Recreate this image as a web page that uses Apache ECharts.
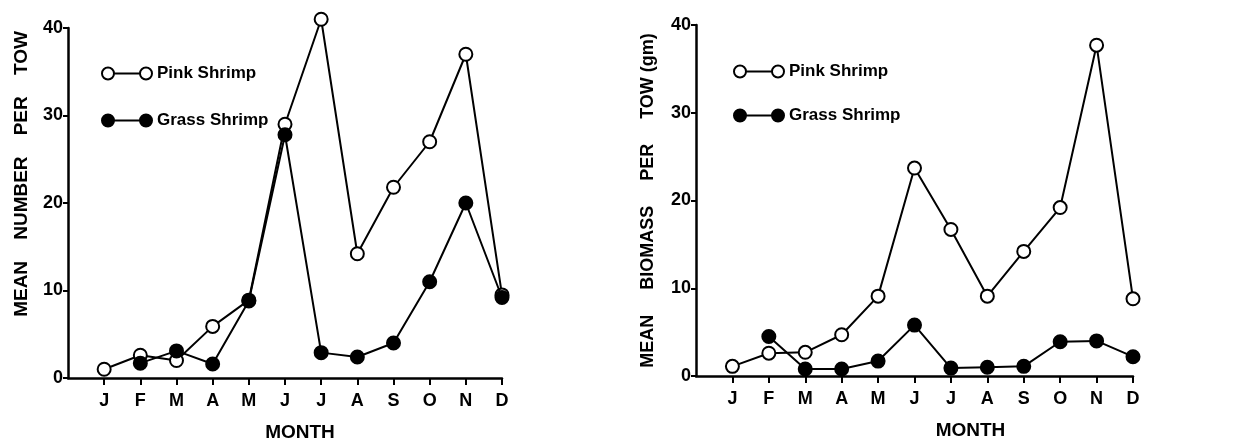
<!DOCTYPE html>
<html>
<head>
<meta charset="utf-8">
<script src="https://cdn.jsdelivr.net/npm/echarts@6/dist/echarts.min.js"></script>
<style>
  html, body { margin: 0; padding: 0; background: #fff; }
  #chart { width: 1239px; height: 442px; }
</style>
</head>
<body>
<div id="chart"></div>
<script>
// Month letters on the x axis (month number 1..12)
const months = ['J', 'F', 'M', 'A', 'M', 'J', 'J', 'A', 'S', 'O', 'N', 'D'];
const yTicks = [0, 10, 20, 30, 40];

// Mean number per tow
const numberPink  = [1.0, 2.6, 2.0, 5.9, 8.9, 29.0, 41.0, 14.2, 21.8, 27.0, 37.0, 9.5];
const numberGrass = [null, 1.7, 3.1, 1.6, 8.8, 27.8, 2.9, 2.4, 4.0, 11.0, 20.0, 9.2];

// Mean biomass per tow (gm)
const biomassPink  = [1.1, 2.6, 2.7, 4.7, 9.1, 23.7, 16.7, 9.1, 14.2, 19.2, 37.7, 8.8];
const biomassGrass = [null, 4.5, 0.8, 0.8, 1.7, 5.8, 0.9, 1.0, 1.1, 3.9, 4.0, 2.2];

const FONT = '"Liberation Sans", Arial, Helvetica, sans-serif';
const monthNums = months.map((m, i) => i + 1);

function pairs(values) {
  return values.map((v, i) => [i + 1, v]).filter(p => p[1] !== null);
}

// two circles joined by a short rule, used as legend keys
const KEY_ICON = 'path://M0,6a6,6 0 1,0 12,0a6,6 0 1,0 -12,0Z M12,6L38,6 M38,6a6,6 0 1,0 12,0a6,6 0 1,0 -12,0Z';

const openStyle = { color: '#fff', borderColor: '#000', borderWidth: 2 };
const filledStyle = { color: '#000', borderColor: '#000', borderWidth: 2 };

function xAxis(gridIndex, nameShift) {
  return {
    type: 'value', gridIndex: gridIndex, min: 0, max: 12,
    name: 'MONTH', nameLocation: 'middle', nameGap: 45,
    nameTextStyle: { fontFamily: FONT, fontWeight: 'bold', fontSize: 19, color: '#000',
                     padding: [0, 0, 0, nameShift] },
    axisLine: { lineStyle: { color: '#000', width: 2.5 } },
    axisTick: { inside: false, length: 7, customValues: monthNums, lineStyle: { color: '#000', width: 2 } },
    axisLabel: { customValues: monthNums, margin: 14, fontFamily: FONT, fontWeight: 'bold', fontSize: 18, color: '#000',
                 formatter: v => months[v - 1] || '' },
    splitLine: { show: false }
  };
}

function yAxis(gridIndex, name, gap, shift, size) {
  return {
    type: 'value', gridIndex: gridIndex, min: 0, max: 40, interval: 10,
    name: name, nameLocation: 'middle', nameGap: gap, nameRotate: 90,
    nameTextStyle: { fontFamily: FONT, fontWeight: 'bold', fontSize: size, color: '#000',
                     padding: [0, 0, 0, shift] },
    axisLine: { show: true, lineStyle: { color: '#000', width: 2.5 } },
    axisTick: { show: true, inside: false, length: 5, lineStyle: { color: '#000', width: 2 } },
    axisLabel: { margin: 5, fontFamily: FONT, fontWeight: 'bold', fontSize: 18, color: '#000',
                 customValues: yTicks },
    splitLine: { show: false }
  };
}

function series(name, values, idx, filled) {
  return {
    name: name, type: 'line', xAxisIndex: idx, yAxisIndex: idx,
    data: pairs(values),
    symbol: 'circle', symbolSize: 13,
    itemStyle: filled ? filledStyle : openStyle,
    lineStyle: { color: '#000', width: 2 },
    clip: false,
    z: filled ? 3 : 2,
    animation: false
  };
}

function legend(left, top, gap) {
  return {
    left: left, top: top, orient: 'vertical', itemGap: gap,
    itemWidth: 50, itemHeight: 12,
    textStyle: { fontFamily: FONT, fontWeight: 'bold', fontSize: 17, color: '#000' },
    selectedMode: false,
    data: [
      { name: 'Pink Shrimp', icon: KEY_ICON, itemStyle: openStyle },
      { name: 'Grass Shrimp', icon: KEY_ICON, itemStyle: filledStyle }
    ]
  };
}

const chart = echarts.init(document.getElementById('chart'), null, { renderer: 'canvas' });
chart.setOption({
  backgroundColor: '#fff',
  animation: false,
  grid: [
    { left: 68, top: 28, width: 434, height: 350, outerBoundsMode: 'none' },
    { left: 696, top: 25, width: 437, height: 351, outerBoundsMode: 'none' }
  ],
  legend: [legend(96, 60, 30), legend(728, 58, 27)],
  xAxis: [xAxis(0, 30), xAxis(1, 112)],
  yAxis: [
    yAxis(0, 'MEAN    NUMBER    PER    TOW', 37, 58, 19),
    yAxis(1, 'MEAN     BIOMASS     PER     TOW (gm)', 39, 0, 18)
  ],
  series: [
    series('Pink Shrimp', numberPink, 0, false),
    series('Grass Shrimp', numberGrass, 0, true),
    series('Pink Shrimp', biomassPink, 1, false),
    series('Grass Shrimp', biomassGrass, 1, true)
  ]
});
</script>
</body>
</html>
